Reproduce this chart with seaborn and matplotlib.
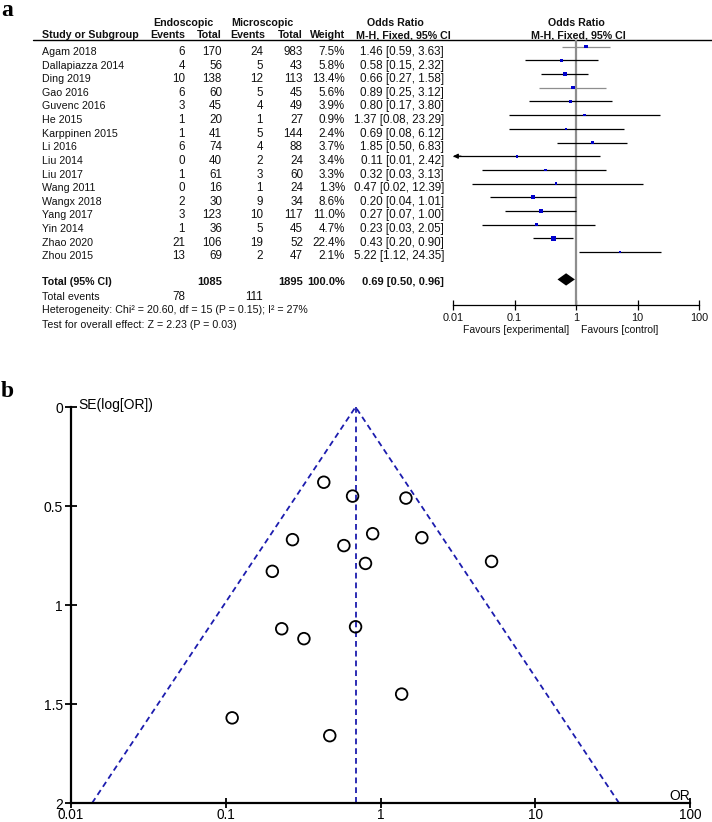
import numpy as np
import pandas as pd
import matplotlib
matplotlib.use("Agg")
import matplotlib.pyplot as plt
from matplotlib.ticker import NullLocator
import seaborn as sns

# ---------------- data ----------------
studies = ["Agam 2018", "Dallapiazza 2014", "Ding 2019", "Gao 2016", "Guvenc 2016",
           "He 2015", "Karppinen 2015", "Li 2016", "Liu 2014", "Liu 2017",
           "Wang 2011", "Wangx 2018", "Yang 2017", "Yin 2014", "Zhao 2020", "Zhou 2015"]
endo_events = [6, 4, 10, 6, 3, 1, 1, 6, 0, 1, 0, 2, 3, 1, 21, 13]
endo_total = [170, 56, 138, 60, 45, 20, 41, 74, 40, 61, 16, 30, 123, 36, 106, 69]
micro_events = [24, 5, 12, 5, 4, 1, 5, 4, 2, 3, 1, 9, 10, 5, 19, 2]
micro_total = [983, 43, 113, 45, 49, 27, 144, 88, 24, 60, 24, 34, 117, 45, 52, 47]
weights = [7.5, 5.8, 13.4, 5.6, 3.9, 0.9, 2.4, 3.7, 3.4, 3.3, 1.3, 8.6, 11.0, 4.7, 22.4, 2.1]
odds_ratio = [1.46, 0.58, 0.66, 0.89, 0.80, 1.37, 0.69, 1.85, 0.11, 0.32, 0.47, 0.20, 0.27, 0.23, 0.43, 5.22]
ci_low = [0.59, 0.15, 0.27, 0.25, 0.17, 0.08, 0.08, 0.50, 0.01, 0.03, 0.02, 0.04, 0.07, 0.03, 0.20, 1.12]
ci_high = [3.63, 2.32, 1.58, 3.12, 3.80, 23.29, 6.12, 6.83, 2.42, 3.13, 12.39, 1.01, 1.00, 2.05, 0.90, 24.35]
se_log_or = [0.46, 0.70, 0.45, 0.64, 0.79, 1.45, 1.11, 0.66, 1.57, 1.17, 1.66, 0.83, 0.67, 1.12, 0.38, 0.78]
grey_ci_studies = ["Agam 2018", "Gao 2016"]

pooled_or = 0.69
pooled_low = 0.50
pooled_high = 0.96
total_endo = 1085
total_micro = 1895
events_endo = 78
events_micro = 111
heterogeneity = "Heterogeneity: Chi\u00b2 = 20.60, df = 15 (P = 0.15); I\u00b2 = 27%"
overall_test = "Test for overall effect: Z = 2.23 (P = 0.03)"

forest_ticks = [0.01, 0.1, 1, 10, 100]
forest_ticklabels = ["0.01", "0.1", "1", "10", "100"]
funnel_yticks = [0, 0.5, 1, 1.5, 2]
funnel_yticklabels = ["0", "0.5", "1", "1.5", "2"]

df = pd.DataFrame({"study": studies, "or": odds_ratio, "lo": ci_low, "hi": ci_high,
                   "w": weights, "se": se_log_or})
df["row"] = np.arange(len(df))

# ---------------- figure ----------------
sns.set_theme(style="white")
plt.rcParams['font.family'] = ['Liberation Sans', 'DejaVu Sans']

W, H = 712, 822
fig = plt.figure(figsize=(W / 100, H / 100), dpi=100)


def rect(x0, y0, x1, y1):
    return [x0 / W, 1 - y1 / H, (x1 - x0) / W, (y1 - y0) / H]


bg = fig.add_axes([0, 0, 1, 1])
bg.set_xlim(0, W)
bg.set_ylim(H, 0)
bg.axis("off")

FS = 7.7      # words
FSN = 8.4     # numeric columns
TXT = "#111111"

# panel labels
bg.text(1, 16, "a", family="Liberation Serif", weight="bold", fontsize=17, va="baseline", color="black")
bg.text(1, 397, "b", family="Liberation Serif", weight="bold", fontsize=17, va="baseline", color="black")

# headers
hb = dict(fontsize=FS, weight="bold", va="baseline", color=TXT)
bg.text(183, 26, "Endoscopic", ha="center", **hb)
bg.text(262, 26, "Microscopic", ha="center", **hb)
bg.text(395, 26, "Odds Ratio", ha="center", **hb)
bg.text(576, 26, "Odds Ratio", ha="center", **hb)
bg.text(42, 38, "Study or Subgroup", ha="left", **hb)
bg.text(185, 38, "Events", ha="right", **hb)
bg.text(222, 38, "Total", ha="right", **hb)
bg.text(265, 38, "Events", ha="right", **hb)
bg.text(303, 38, "Total", ha="right", **hb)
bg.text(345, 38, "Weight", ha="right", **hb)
bg.text(403, 38, "M-H, Fixed, 95% CI", ha="center", **hb)
bg.text(578, 38, "M-H, Fixed, 95% CI", ha="center", **hb)
bg.plot([33, 712], [40, 40], color="black", lw=1.0)

# study rows
rt = dict(fontsize=FS, va="baseline", color=TXT)
rn = dict(fontsize=FSN, va="baseline", color=TXT)
row_base0 = 55.0
row_step = 13.62
for i in range(len(studies)):
    yb = row_base0 + row_step * i
    bg.text(42, yb, studies[i], ha="left", **rt)
    bg.text(185, yb, f"{endo_events[i]}", ha="right", **rn)
    bg.text(222, yb, f"{endo_total[i]}", ha="right", **rn)
    bg.text(263, yb, f"{micro_events[i]}", ha="right", **rn)
    bg.text(303, yb, f"{micro_total[i]}", ha="right", **rn)
    bg.text(345, yb, f"{weights[i]:.1f}%", ha="right", **rn)
    bg.text(444, yb, f"{odds_ratio[i]:.2f} [{ci_low[i]:.2f}, {ci_high[i]:.2f}]", ha="right", **rn)

# totals
bt = dict(fontsize=FS, va="baseline", color=TXT, weight="bold")
btn = dict(fontsize=FSN - 0.4, va="baseline", color=TXT, weight="bold")
bg.text(42, 285, "Total (95% CI)", ha="left", **bt)
bg.text(222, 285, f"{total_endo}", ha="right", **btn)
bg.text(303, 285, f"{total_micro}", ha="right", **btn)
bg.text(345, 285, "100.0%", ha="right", **btn)
bg.text(444, 285, f"{pooled_or:.2f} [{pooled_low:.2f}, {pooled_high:.2f}]", ha="right", **btn)
bg.text(42, 300, "Total events", ha="left", **rt)
bg.text(185, 300, f"{events_endo}", ha="right", **rn)
bg.text(263, 300, f"{events_micro}", ha="right", **rn)
bg.text(42, 313, heterogeneity, ha="left", **rt)
bg.text(42, 328, overall_test, ha="left", **rt)

# ---------------- forest plot ----------------
ax = fig.add_axes(rect(453, 40, 699, 305))
ax.patch.set_alpha(0)
ax.set_xscale("log")
ax.set_xlim(0.01, 100)
m0, mstep = 46.7, 13.69
ax.set_ylim((305 - m0) / mstep, (40 - m0) / mstep)
ax.axvline(1, color="#8e8e8e", lw=1.6, zorder=1)

for _, r in df.iterrows():
    col = "#8e8e8e" if r["study"] in grey_ci_studies else "black"
    lo = max(r["lo"], 0.01)
    ax.plot([lo, r["hi"]], [r["row"], r["row"]], color=col, lw=0.9, zorder=2, solid_capstyle="butt")
    if r["lo"] <= 0.01:
        ax.annotate("", xy=(0.0100, r["row"]), xytext=(0.0135, r["row"]),
                    arrowprops=dict(arrowstyle="-|>", color="black", lw=0.9, mutation_scale=7,
                                    shrinkA=0, shrinkB=0), annotation_clip=False, zorder=3)

sns.scatterplot(data=df, x="or", y="row", size="w", sizes=(2.0, 16), size_norm=(0, 22.4),
                marker="s", color="#0000cc", linewidth=0, legend=False, ax=ax, zorder=4)

total_row = 17
ax.fill([pooled_low, pooled_or, pooled_high, pooled_or],
        [total_row, total_row - 0.45, total_row, total_row + 0.45], color="black", zorder=4, lw=0)

for s in ["top", "right", "left"]:
    ax.spines[s].set_visible(False)
ax.spines["bottom"].set_color("black")
ax.spines["bottom"].set_linewidth(0.9)
ax.set_xticks(forest_ticks)
ax.set_xticklabels(forest_ticklabels)
ax.xaxis.set_minor_locator(NullLocator())
ax.set_yticks([])
ax.tick_params(axis="x", direction="inout", length=7, width=0.9, labelsize=7.8, pad=2,
               colors="black", labelcolor=TXT, bottom=True)
ax.set_xlabel("")
ax.set_ylabel("")
bg.text(569, 333, "Favours [experimental]", ha="right", va="baseline", fontsize=7.5, color=TXT)
bg.text(581, 333, "Favours [control]", ha="left", va="baseline", fontsize=7.5, color=TXT)

# ---------------- funnel plot ----------------
ax2 = fig.add_axes(rect(71, 407, 690, 803))
ax2.patch.set_alpha(0)
ax2.set_xscale("log")
ax2.set_xlim(0.01, 100)
ax2.set_ylim(2, 0)
blue = "#1c1cae"
se_max = funnel_yticks[-1]
ax2.plot([pooled_or * np.exp(-1.96 * se_max), pooled_or, pooled_or * np.exp(1.96 * se_max)],
         [se_max, 0, se_max], color=blue, lw=1.3, ls=(0, (3.2, 2.2)), clip_on=False, zorder=2)
ax2.plot([pooled_or, pooled_or], [0, se_max], color=blue, lw=1.3, ls=(0, (3.2, 2.2)),
         clip_on=False, zorder=2)
sns.scatterplot(data=df, x="or", y="se", marker="o", s=70, facecolor="none",
                edgecolor="black", linewidth=1.3, legend=False, ax=ax2, zorder=3, clip_on=False)

for s in ["top", "right"]:
    ax2.spines[s].set_visible(False)
for s in ["left", "bottom"]:
    ax2.spines[s].set_color("black")
    ax2.spines[s].set_linewidth(1.6)
ax2.set_xticks(forest_ticks)
ax2.set_xticklabels(forest_ticklabels)
ax2.xaxis.set_minor_locator(NullLocator())
ax2.set_yticks(funnel_yticks)
ax2.set_yticklabels(funnel_yticklabels)
ax2.tick_params(axis="y", direction="inout", length=8.5, width=1.3, labelsize=10,
                colors="black", labelcolor="black", left=True, pad=1.5)
ax2.tick_params(axis="x", direction="inout", length=6.5, width=1.3, labelsize=9.8,
                colors="black", labelcolor="black", bottom=True, pad=0)
ax2.set_xlabel("")
ax2.set_ylabel("")
bg.text(78, 409, "SE(log[OR])", ha="left", va="baseline", fontsize=10, color="black")
bg.text(690, 800, "OR", ha="right", va="baseline", fontsize=10, color="black")

fig.savefig("out.png", dpi=100)
